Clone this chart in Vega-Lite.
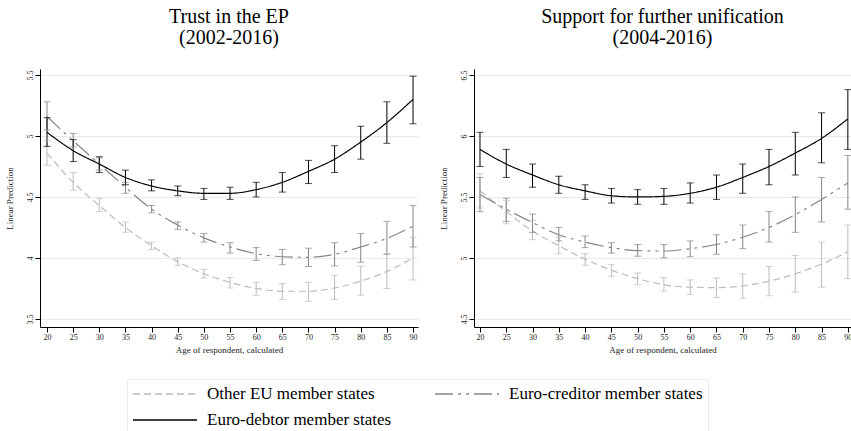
{
  "$schema": "https://vega.github.io/schema/vega-lite/v6.json",
  "padding": {"left": 4, "top": 7, "right": 0, "bottom": 0},
  "autosize": {"type": "pad"},
  "background": "white",
  "config": {
    "view": {"stroke": null},
    "font": "Liberation Serif",
    "axis": {"domainColor": "#000000", "tickColor": "#000000", "labelColor": "#222222", "titleColor": "#222222", "labelFont": "Liberation Serif", "titleFont": "Liberation Serif", "labelFontSize": 8, "titleFontSize": 9, "titleFontWeight": "normal", "tickSize": 5, "gridColor": "#e2ecec", "labelFlush": false},
    "axisX": {"grid": false, "labelPadding": 1, "titlePadding": 4},
    "axisY": {"grid": true, "labelAngle": -90, "labelPadding": 1, "titlePadding": 12},
    "legend": {"labelFont": "Liberation Serif", "titleFont": "Liberation Serif"},
    "title": {"font": "Liberation Serif", "fontSize": 20, "fontWeight": "normal", "color": "#000000", "subtitleFont": "Liberation Serif", "subtitleFontSize": 20, "subtitleColor": "#000000", "anchor": "middle", "subtitlePadding": 1, "offset": 21},
    "concat": {"spacing": 20}
  },
  "data": {"values": [
    {"p":"ep","g":"Other EU member states","age":20,"est":4.86,"lo":4.76,"hi":4.96},
    {"p":"ep","g":"Other EU member states","age":25,"est":4.62,"lo":4.555,"hi":4.70},
    {"p":"ep","g":"Other EU member states","age":30,"est":4.43,"lo":4.38,"hi":4.49},
    {"p":"ep","g":"Other EU member states","age":35,"est":4.25,"lo":4.21,"hi":4.295},
    {"p":"ep","g":"Other EU member states","age":40,"est":4.10,"lo":4.07,"hi":4.13},
    {"p":"ep","g":"Other EU member states","age":45,"est":3.97,"lo":3.94,"hi":4.00},
    {"p":"ep","g":"Other EU member states","age":50,"est":3.87,"lo":3.836,"hi":3.907},
    {"p":"ep","g":"Other EU member states","age":55,"est":3.80,"lo":3.754,"hi":3.84},
    {"p":"ep","g":"Other EU member states","age":60,"est":3.75,"lo":3.694,"hi":3.80},
    {"p":"ep","g":"Other EU member states","age":65,"est":3.727,"lo":3.66,"hi":3.79},
    {"p":"ep","g":"Other EU member states","age":70,"est":3.727,"lo":3.645,"hi":3.80},
    {"p":"ep","g":"Other EU member states","age":75,"est":3.754,"lo":3.66,"hi":3.858},
    {"p":"ep","g":"Other EU member states","age":80,"est":3.81,"lo":3.694,"hi":3.932},
    {"p":"ep","g":"Other EU member states","age":85,"est":3.89,"lo":3.75,"hi":4.035},
    {"p":"ep","g":"Other EU member states","age":90,"est":4.00,"lo":3.82,"hi":4.17},
    {"p":"ep","g":"Euro-creditor member states","age":20,"est":5.16,"lo":5.05,"hi":5.28},
    {"p":"ep","g":"Euro-creditor member states","age":25,"est":4.96,"lo":4.91,"hi":5.02},
    {"p":"ep","g":"Euro-creditor member states","age":30,"est":4.77,"lo":4.72,"hi":4.82},
    {"p":"ep","g":"Euro-creditor member states","age":35,"est":4.58,"lo":4.53,"hi":4.62},
    {"p":"ep","g":"Euro-creditor member states","age":40,"est":4.40,"lo":4.37,"hi":4.43},
    {"p":"ep","g":"Euro-creditor member states","age":45,"est":4.27,"lo":4.235,"hi":4.295},
    {"p":"ep","g":"Euro-creditor member states","age":50,"est":4.165,"lo":4.13,"hi":4.20},
    {"p":"ep","g":"Euro-creditor member states","age":55,"est":4.09,"lo":4.04,"hi":4.125},
    {"p":"ep","g":"Euro-creditor member states","age":60,"est":4.035,"lo":3.98,"hi":4.085},
    {"p":"ep","g":"Euro-creditor member states","age":65,"est":4.01,"lo":3.945,"hi":4.07},
    {"p":"ep","g":"Euro-creditor member states","age":70,"est":4.005,"lo":3.93,"hi":4.08},
    {"p":"ep","g":"Euro-creditor member states","age":75,"est":4.03,"lo":3.935,"hi":4.125},
    {"p":"ep","g":"Euro-creditor member states","age":80,"est":4.09,"lo":3.965,"hi":4.20},
    {"p":"ep","g":"Euro-creditor member states","age":85,"est":4.16,"lo":4.03,"hi":4.30},
    {"p":"ep","g":"Euro-creditor member states","age":90,"est":4.26,"lo":4.09,"hi":4.43},
    {"p":"ep","g":"Euro-debtor member states","age":20,"est":5.03,"lo":4.915,"hi":5.15},
    {"p":"ep","g":"Euro-debtor member states","age":25,"est":4.88,"lo":4.79,"hi":4.97},
    {"p":"ep","g":"Euro-debtor member states","age":30,"est":4.77,"lo":4.70,"hi":4.83},
    {"p":"ep","g":"Euro-debtor member states","age":35,"est":4.66,"lo":4.60,"hi":4.72},
    {"p":"ep","g":"Euro-debtor member states","age":40,"est":4.59,"lo":4.55,"hi":4.64},
    {"p":"ep","g":"Euro-debtor member states","age":45,"est":4.55,"lo":4.51,"hi":4.59},
    {"p":"ep","g":"Euro-debtor member states","age":50,"est":4.53,"lo":4.48,"hi":4.57},
    {"p":"ep","g":"Euro-debtor member states","age":55,"est":4.53,"lo":4.48,"hi":4.58},
    {"p":"ep","g":"Euro-debtor member states","age":60,"est":4.56,"lo":4.50,"hi":4.62},
    {"p":"ep","g":"Euro-debtor member states","age":65,"est":4.62,"lo":4.54,"hi":4.70},
    {"p":"ep","g":"Euro-debtor member states","age":70,"est":4.71,"lo":4.61,"hi":4.80},
    {"p":"ep","g":"Euro-debtor member states","age":75,"est":4.81,"lo":4.70,"hi":4.92},
    {"p":"ep","g":"Euro-debtor member states","age":80,"est":4.95,"lo":4.81,"hi":5.08},
    {"p":"ep","g":"Euro-debtor member states","age":85,"est":5.11,"lo":4.94,"hi":5.28},
    {"p":"ep","g":"Euro-debtor member states","age":90,"est":5.30,"lo":5.10,"hi":5.49},
    {"p":"un","g":"Other EU member states","age":20,"est":5.55,"lo":5.41,"hi":5.69},
    {"p":"un","g":"Other EU member states","age":25,"est":5.38,"lo":5.28,"hi":5.47},
    {"p":"un","g":"Other EU member states","age":30,"est":5.22,"lo":5.15,"hi":5.31},
    {"p":"un","g":"Other EU member states","age":35,"est":5.10,"lo":5.035,"hi":5.17},
    {"p":"un","g":"Other EU member states","age":40,"est":4.99,"lo":4.94,"hi":5.035},
    {"p":"un","g":"Other EU member states","age":45,"est":4.90,"lo":4.85,"hi":4.945},
    {"p":"un","g":"Other EU member states","age":50,"est":4.83,"lo":4.78,"hi":4.877},
    {"p":"un","g":"Other EU member states","age":55,"est":4.78,"lo":4.73,"hi":4.84},
    {"p":"un","g":"Other EU member states","age":60,"est":4.76,"lo":4.70,"hi":4.82},
    {"p":"un","g":"Other EU member states","age":65,"est":4.757,"lo":4.675,"hi":4.836},
    {"p":"un","g":"Other EU member states","age":70,"est":4.77,"lo":4.67,"hi":4.87},
    {"p":"un","g":"Other EU member states","age":75,"est":4.81,"lo":4.69,"hi":4.93},
    {"p":"un","g":"Other EU member states","age":80,"est":4.87,"lo":4.72,"hi":5.02},
    {"p":"un","g":"Other EU member states","age":85,"est":4.95,"lo":4.76,"hi":5.13},
    {"p":"un","g":"Other EU member states","age":90,"est":5.05,"lo":4.83,"hi":5.27},
    {"p":"un","g":"Euro-creditor member states","age":20,"est":5.52,"lo":5.38,"hi":5.66},
    {"p":"un","g":"Euro-creditor member states","age":25,"est":5.40,"lo":5.30,"hi":5.49},
    {"p":"un","g":"Euro-creditor member states","age":30,"est":5.29,"lo":5.21,"hi":5.36},
    {"p":"un","g":"Euro-creditor member states","age":35,"est":5.19,"lo":5.14,"hi":5.25},
    {"p":"un","g":"Euro-creditor member states","age":40,"est":5.13,"lo":5.085,"hi":5.18},
    {"p":"un","g":"Euro-creditor member states","age":45,"est":5.085,"lo":5.04,"hi":5.125},
    {"p":"un","g":"Euro-creditor member states","age":50,"est":5.06,"lo":5.014,"hi":5.11},
    {"p":"un","g":"Euro-creditor member states","age":55,"est":5.057,"lo":5.00,"hi":5.11},
    {"p":"un","g":"Euro-creditor member states","age":60,"est":5.076,"lo":5.01,"hi":5.14},
    {"p":"un","g":"Euro-creditor member states","age":65,"est":5.11,"lo":5.03,"hi":5.19},
    {"p":"un","g":"Euro-creditor member states","age":70,"est":5.17,"lo":5.076,"hi":5.27},
    {"p":"un","g":"Euro-creditor member states","age":75,"est":5.25,"lo":5.13,"hi":5.38},
    {"p":"un","g":"Euro-creditor member states","age":80,"est":5.355,"lo":5.21,"hi":5.50},
    {"p":"un","g":"Euro-creditor member states","age":85,"est":5.48,"lo":5.295,"hi":5.66},
    {"p":"un","g":"Euro-creditor member states","age":90,"est":5.615,"lo":5.40,"hi":5.84},
    {"p":"un","g":"Euro-debtor member states","age":20,"est":5.89,"lo":5.75,"hi":6.03},
    {"p":"un","g":"Euro-debtor member states","age":25,"est":5.77,"lo":5.66,"hi":5.89},
    {"p":"un","g":"Euro-debtor member states","age":30,"est":5.68,"lo":5.58,"hi":5.77},
    {"p":"un","g":"Euro-debtor member states","age":35,"est":5.60,"lo":5.53,"hi":5.67},
    {"p":"un","g":"Euro-debtor member states","age":40,"est":5.55,"lo":5.48,"hi":5.60},
    {"p":"un","g":"Euro-debtor member states","age":45,"est":5.51,"lo":5.45,"hi":5.57},
    {"p":"un","g":"Euro-debtor member states","age":50,"est":5.50,"lo":5.44,"hi":5.56},
    {"p":"un","g":"Euro-debtor member states","age":55,"est":5.505,"lo":5.44,"hi":5.57},
    {"p":"un","g":"Euro-debtor member states","age":60,"est":5.53,"lo":5.45,"hi":5.615},
    {"p":"un","g":"Euro-debtor member states","age":65,"est":5.58,"lo":5.48,"hi":5.68},
    {"p":"un","g":"Euro-debtor member states","age":70,"est":5.66,"lo":5.53,"hi":5.77},
    {"p":"un","g":"Euro-debtor member states","age":75,"est":5.75,"lo":5.60,"hi":5.89},
    {"p":"un","g":"Euro-debtor member states","age":80,"est":5.86,"lo":5.68,"hi":6.03},
    {"p":"un","g":"Euro-debtor member states","age":85,"est":5.98,"lo":5.78,"hi":6.19},
    {"p":"un","g":"Euro-debtor member states","age":90,"est":6.14,"lo":5.89,"hi":6.38}
  ]},
  "resolve": {"scale": {"x": "independent", "y": "independent", "color": "shared", "strokeDash": "shared"}, "legend": {"color": "shared", "strokeDash": "shared"}},
  "hconcat": [
    {
      "width": 378, "height": 258,
      "title": {"text": "Trust in the EP", "subtitle": "(2002-2016)"},
      "transform": [{"filter": "datum.p == 'ep'"}],
      "encoding": {
        "x": {"field": "age", "type": "quantitative", "scale": {"domain": [18.66, 90.95], "nice": false, "zero": false}, "axis": {"values": [20,25,30,35,40,45,50,55,60,65,70,75,80,85,90], "title": "Age of respondent, calculated"}}
      },
      "layer": [
        {
          "mark": {"type": "line", "strokeWidth": 1.2, "interpolate": "monotone"},
          "encoding": {
            "y": {"field": "est", "type": "quantitative", "scale": {"domain": [3.434, 5.549], "nice": false, "zero": false}, "axis": {"values": [3.5,4,4.5,5,5.5], "format": "~g", "title": "Linear Prediction"}},
            "color": {"field": "g", "type": "nominal", "scale": {"domain": ["Other EU member states", "Euro-debtor member states", "Euro-creditor member states"], "range": ["#bcbcbc", "#000000", "#858585"]},
              "legend": {"orient": "none", "legendX": 87, "legendY": 310, "columns": 2, "title": null, "symbolType": "stroke", "symbolSize": 4096, "symbolStrokeWidth": 1.6, "clipHeight": 20, "labelFontSize": 17, "labelFont": "Liberation Serif", "labelColor": "#000000", "labelOffset": 9, "columnPadding": 42, "rowPadding": 6, "padding": 5, "strokeColor": "#e6eeee", "fillColor": "white", "labelLimit": 400,
                "encode": {"labels": {"update": {"font": {"value": "Liberation Serif"}, "fontSize": {"value": 17}}}}}},
            "strokeDash": {"field": "g", "type": "nominal", "scale": {"domain": ["Other EU member states", "Euro-debtor member states", "Euro-creditor member states"], "range": [[7,4],[1,0],[18,5,3,5,3,5]]},
              "legend": {"orient": "none", "legendX": 87, "legendY": 310, "columns": 2, "title": null, "symbolType": "stroke", "symbolSize": 4096, "symbolStrokeWidth": 1.6, "clipHeight": 20, "labelFontSize": 17, "labelFont": "Liberation Serif", "labelColor": "#000000", "labelOffset": 9, "columnPadding": 42, "rowPadding": 6, "padding": 5, "strokeColor": "#e6eeee", "fillColor": "white", "labelLimit": 400,
                "encode": {"labels": {"update": {"font": {"value": "Liberation Serif"}, "fontSize": {"value": 17}}}}}}
          }
        },
        {
          "mark": {"type": "rule", "strokeWidth": 1},
          "encoding": {
            "y": {"field": "lo", "type": "quantitative", "axis": {"title": "Linear Prediction"}},
            "y2": {"field": "hi"},
            "color": {"field": "g", "type": "nominal"}
          }
        },
        {
          "mark": {"type": "tick", "orient": "horizontal", "size": 7, "thickness": 1},
          "encoding": {
            "y": {"field": "lo", "type": "quantitative", "axis": {"title": "Linear Prediction"}},
            "color": {"field": "g", "type": "nominal"}
          }
        },
        {
          "mark": {"type": "tick", "orient": "horizontal", "size": 7, "thickness": 1},
          "encoding": {
            "y": {"field": "hi", "type": "quantitative", "axis": {"title": "Linear Prediction"}},
            "color": {"field": "g", "type": "nominal"}
          }
        }
      ]
    },
    {
      "width": 377, "height": 258,
      "title": {"text": "Support for further unification", "subtitle": "(2004-2016)"},
      "transform": [{"filter": "datum.p == 'un'"}],
      "encoding": {
        "x": {"field": "age", "type": "quantitative", "scale": {"domain": [18.86, 90.6], "nice": false, "zero": false}, "axis": {"values": [20,25,30,35,40,45,50,55,60,65,70,75,80,85,90], "title": "Age of respondent, calculated"}}
      },
      "layer": [
        {
          "mark": {"type": "line", "strokeWidth": 1.2, "interpolate": "monotone"},
          "encoding": {
            "y": {"field": "est", "type": "quantitative", "scale": {"domain": [4.434, 6.549], "nice": false, "zero": false}, "axis": {"values": [4.5,5,5.5,6,6.5], "format": "~g", "title": "Linear Prediction"}},
            "color": {"field": "g", "type": "nominal"},
            "strokeDash": {"field": "g", "type": "nominal"}
          }
        },
        {
          "mark": {"type": "rule", "strokeWidth": 1},
          "encoding": {
            "y": {"field": "lo", "type": "quantitative", "axis": {"title": "Linear Prediction"}},
            "y2": {"field": "hi"},
            "color": {"field": "g", "type": "nominal"}
          }
        },
        {
          "mark": {"type": "tick", "orient": "horizontal", "size": 7, "thickness": 1},
          "encoding": {
            "y": {"field": "lo", "type": "quantitative", "axis": {"title": "Linear Prediction"}},
            "color": {"field": "g", "type": "nominal"}
          }
        },
        {
          "mark": {"type": "tick", "orient": "horizontal", "size": 7, "thickness": 1},
          "encoding": {
            "y": {"field": "hi", "type": "quantitative", "axis": {"title": "Linear Prediction"}},
            "color": {"field": "g", "type": "nominal"}
          }
        }
      ]
    }
  ]
}
